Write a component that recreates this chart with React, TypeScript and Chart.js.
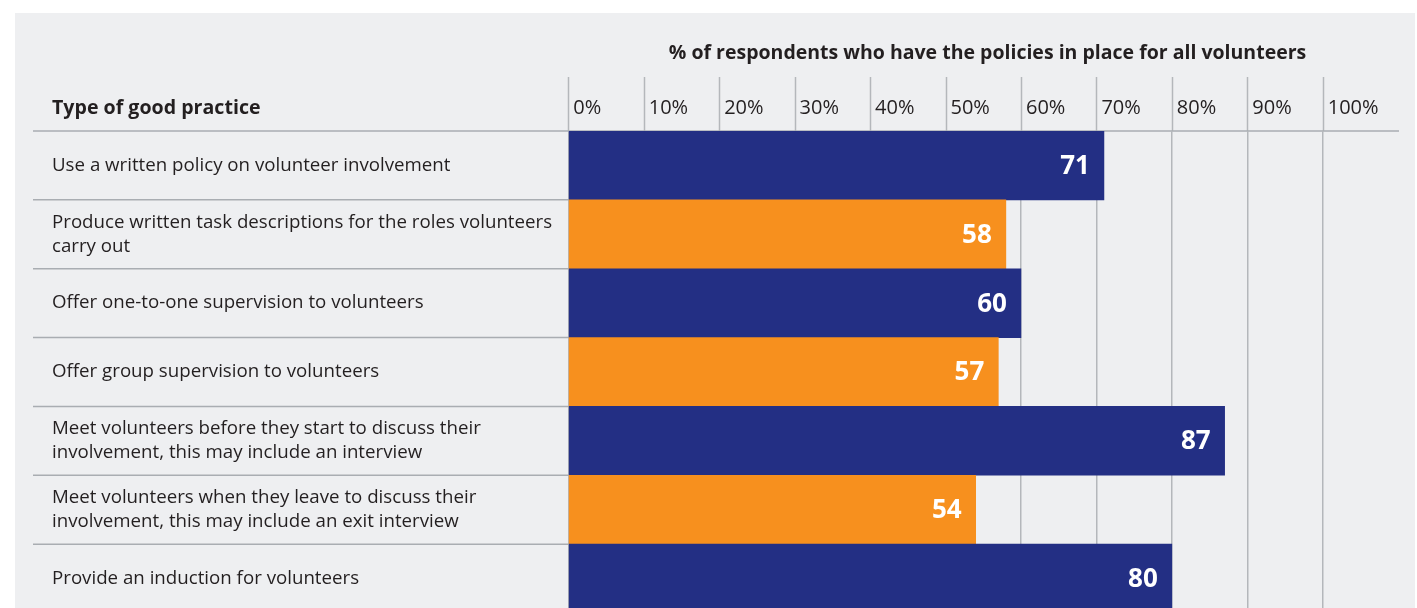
import React, { useEffect, useRef } from "react";
import { Chart, registerables } from "chart.js";

Chart.register(...registerables);

const categories: string[][] = [
  ["Use a written policy on volunteer involvement"],
  ["Produce written task descriptions for the roles volunteers", "carry out"],
  ["Offer one-to-one supervision to volunteers"],
  ["Offer group supervision to volunteers"],
  ["Meet volunteers before they start to discuss their", "involvement, this may include an interview"],
  ["Meet volunteers when they leave to discuss their", "involvement, this may include an exit interview"],
  ["Provide an induction for volunteers"],
];
const values = [71, 58, 60, 57, 87, 54, 80];
const barColors = ["#232f84", "#f7901e", "#232f84", "#f7901e", "#232f84", "#f7901e", "#232f84"];
const tickValues = [0, 10, 20, 30, 40, 50, 60, 70, 80, 90, 100];
const tickLabels = tickValues.map((v) => `${v}%`);
const chartTitle = "% of respondents who have the policies in place for all volunteers";
const columnHeader = "Type of good practice";

const FONT = "'Open Sans', 'Noto Sans', sans-serif";
const TEXT = "#231f20";
const LINE = "#a9adb2";

const decorPlugin = {
  id: "decor",
  beforeDraw(chart: any) {
    const { ctx, width, height, chartArea } = chart;
    ctx.save();
    ctx.fillStyle = "#ffffff";
    ctx.fillRect(0, 0, width, height);
    ctx.fillStyle = "#eeeff1";
    ctx.fillRect(15, 13, 1400, height - 13);

    const xs = chart.scales.x;
    const ys = chart.scales.y;
    // extended vertical grid lines into header
    ctx.strokeStyle = "#b4b7bb";
    ctx.lineWidth = 1.5;
    tickValues.forEach((v) => {
      const px = Math.round(xs.getPixelForValue(v)) + 0.5;
      ctx.beginPath();
      ctx.moveTo(px, 77);
      ctx.lineTo(px, chartArea.top);
      ctx.stroke();
    });
    // header line
    ctx.strokeStyle = LINE;
    ctx.lineWidth = 1.5;
    ctx.beginPath();
    ctx.moveTo(33, chartArea.top);
    ctx.lineTo(1399, chartArea.top);
    ctx.stroke();
    // row separators in label column
    for (let i = 0; i < categories.length - 1; i++) {
      const y = (ys.getPixelForValue(i) + ys.getPixelForValue(i + 1)) / 2;
      ctx.beginPath();
      ctx.moveTo(33, y);
      ctx.lineTo(chartArea.left, y);
      ctx.stroke();
    }
    // tick labels
    ctx.fillStyle = TEXT;
    ctx.font = `20px ${FONT}`;
    ctx.textAlign = "left";
    ctx.textBaseline = "middle";
    tickValues.forEach((v, i) => {
      ctx.fillText(tickLabels[i], xs.getPixelForValue(v) + 5, 108);
    });
    // title and column header
    ctx.font = `bold 19.5px ${FONT}`;
    ctx.textAlign = "center";
    ctx.fillText(chartTitle, 987.5, 53);
    ctx.textAlign = "left";
    ctx.font = `bold 19.6px ${FONT}`;
    ctx.fillText(columnHeader, 52, 108);
    // category labels
    ctx.font = `18.7px ${FONT}`;
    categories.forEach((lines, i) => {
      const cy = ys.getPixelForValue(i);
      const lh = 24;
      const start = cy - ((lines.length - 1) * lh) / 2;
      lines.forEach((ln, j) => ctx.fillText(ln, 52, start + j * lh));
    });
    ctx.restore();
  },
  afterDatasetsDraw(chart: any) {
    const { ctx } = chart;
    const meta = chart.getDatasetMeta(0);
    ctx.save();
    ctx.fillStyle = "#ffffff";
    ctx.font = `bold 26px ${FONT}`;
    ctx.textAlign = "right";
    ctx.textBaseline = "middle";
    meta.data.forEach((bar: any, i: number) => {
      ctx.fillText(String(values[i]), bar.x - 14, bar.y + 1);
    });
    ctx.restore();
  },
};

export default function App() {
  const ref = useRef<HTMLCanvasElement | null>(null);
  useEffect(() => {
    if (!ref.current) return;
    const chart = new Chart(ref.current, {
      type: "bar",
      data: {
        labels: categories.map((c) => c.join(" ")),
        datasets: [
          {
            data: values,
            backgroundColor: barColors,
            borderWidth: 0,
            categoryPercentage: 1,
            barPercentage: 1,
          },
        ],
      },
      options: {
        indexAxis: "y",
        animation: false,
        responsive: false,
        devicePixelRatio: 1,
        layout: { padding: { left: 568.3, right: 94.3, top: 131, bottom: 0 } },
        plugins: { legend: { display: false }, tooltip: { enabled: false }, title: { display: false } },
        scales: {
          x: {
            position: "top",
            min: 0,
            max: 100,
            afterBuildTicks: (scale: any) => {
              scale.ticks = tickValues.map((v) => ({ value: v }));
            },
            ticks: { display: false },
            grid: { color: "#b4b7bb", lineWidth: 1.5, drawTicks: false },
            border: { display: false },
          },
          y: { display: false },
        },
      },
      plugins: [decorPlugin],
    });
    return () => chart.destroy();
  }, []);
  return (
    <div style={{ position: "fixed", left: 0, top: 0, width: 1417, height: 608, overflow: "hidden", background: "#fff" }}>
      <canvas ref={ref} width={1417} height={613} style={{ width: 1417, height: 613, display: "block" }} />
    </div>
  );
}
